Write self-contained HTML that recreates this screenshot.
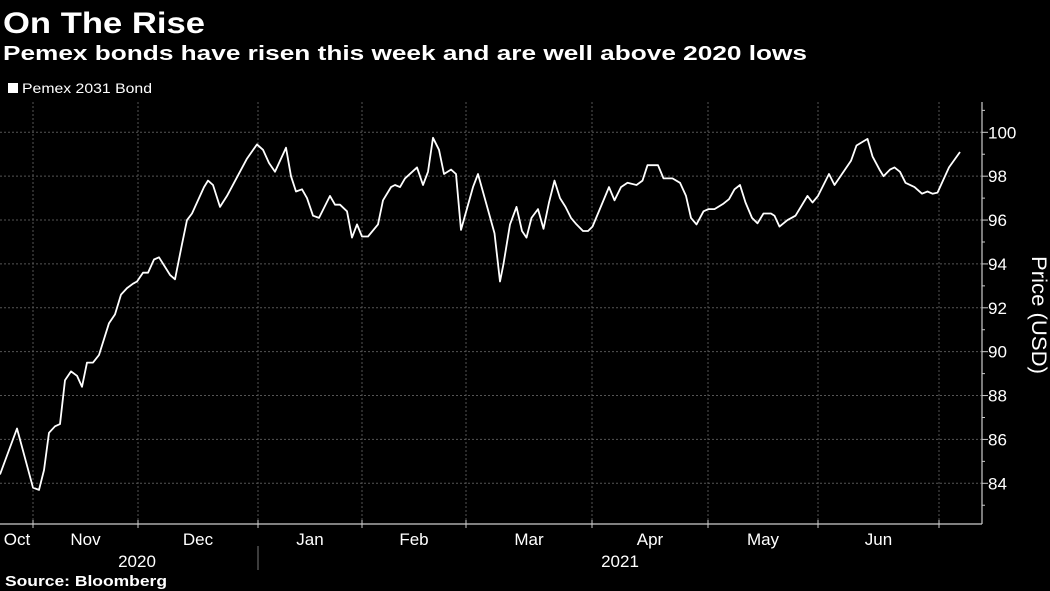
<!DOCTYPE html>
<html><head><meta charset="utf-8"><style>
html,body{margin:0;padding:0;background:#000;}
svg{display:block;}
text{font-family:"Liberation Sans","DejaVu Sans",sans-serif;fill:#fff;}
</style></head><body>
<svg id="chart" width="1050" height="591" viewBox="0 0 1050 591">
<rect x="0" y="0" width="1050" height="591" fill="#000"/>
<text x="3" y="33" font-size="30" font-weight="bold" textLength="202" lengthAdjust="spacingAndGlyphs">On The Rise</text>
<text x="3" y="60" font-size="20" font-weight="bold" textLength="804" lengthAdjust="spacingAndGlyphs">Pemex bonds have risen this week and are well above 2020 lows</text>
<g>
<rect x="8" y="83" width="10" height="10" fill="#fff"/>
<text x="22" y="93" font-size="14" textLength="130" lengthAdjust="spacingAndGlyphs">Pemex 2031 Bond</text>
</g>
<g id="grid"></g>
<g id="axes"></g>
<g id="series"></g>
<text font-size="21" text-anchor="middle" transform="translate(1032,315) rotate(90)" textLength="118" lengthAdjust="spacingAndGlyphs">Price (USD)</text>
<text x="5" y="586" font-size="15" font-weight="bold" textLength="162" lengthAdjust="spacingAndGlyphs">Source: Bloomberg</text>
</svg>
<script>
// trading-session index (t) and price values
const sessions = [0,3.4,6.6,7.8,8.8,9.8,11,12,13,14.2,15.4,16.4,17.4,18.6,19.8,21.8,23,24.2,25.4,26.6,27.4,28.6,29.6,30.8,31.8,34,35,36.4,37.4,38.4,40.8,41.6,42.6,44,45.4,49.4,51.4,52.6,53.8,55,57.2,58.2,59.2,60.4,61.4,62.6,63.8,66,67,68,69.4,70.4,71.4,72.4,73.6,75.6,76.6,78.2,79,80,81,83.4,84.6,85.6,86.6,87.8,88.8,90.2,91.2,92.2,94.6,95.6,98.9,100,100.7,102,103.3,104.4,105.3,106.3,107.6,108.7,109.8,110.9,112,113.1,114.2,115.3,116.6,117.6,118.5,121.8,122.9,124.2,125.5,127.3,128.5,129.5,131.6,132.7,134.5,136,137.2,138.2,139.3,140.7,141.7,142.9,144.7,145.8,146.9,148,149.1,150.4,151.5,152.7,154.2,154.9,155.9,157.5,159.1,161.5,162.5,163.6,165.8,166.9,170.2,171.3,173.5,174.5,175.9,176.7,178,178.9,180,181.1,182.9,184.4,185.5,186.5,187.5,189.8,192];
const prices = [84.4,86.5,83.8,83.7,84.6,86.3,86.6,86.7,88.7,89.1,88.9,88.4,89.5,89.5,89.85,91.3,91.7,92.6,92.9,93.1,93.2,93.6,93.6,94.2,94.3,93.5,93.3,94.9,96.0,96.3,97.5,97.8,97.6,96.6,97.1,98.8,99.45,99.2,98.6,98.2,99.3,98.0,97.3,97.4,97.0,96.2,96.1,97.1,96.7,96.7,96.4,95.2,95.8,95.25,95.25,95.8,96.9,97.5,97.6,97.5,97.9,98.4,97.6,98.2,99.75,99.2,98.1,98.3,98.1,95.55,97.5,98.1,95.4,93.2,94.0,95.8,96.6,95.5,95.2,96.1,96.5,95.6,96.8,97.8,97.0,96.6,96.1,95.8,95.5,95.5,95.7,97.5,96.9,97.5,97.7,97.6,97.8,98.5,98.5,97.9,97.9,97.7,97.1,96.1,95.8,96.4,96.5,96.5,96.75,96.95,97.4,97.6,96.8,96.1,95.85,96.3,96.3,96.2,95.7,96.0,96.2,97.1,96.8,97.1,98.1,97.6,98.7,99.4,99.7,98.9,98.3,98.0,98.3,98.4,98.2,97.7,97.5,97.2,97.3,97.2,97.25,98.4,99.1];
const monthBoundaries = [6.6,27.6,51.6,72.4,93.2,118.4,141.6,163.6,187.8];
const monthLabels = ["Oct","Nov","Dec","Jan","Feb","Mar","Apr","May","Jun"];
const yTicks = [84,86,88,90,92,94,96,98,100];
const yMinorTicks = [83,85,87,89,91,93,95,97,99,101];
const yearLabels = ["2020","2021"];

const NS = "http://www.w3.org/2000/svg";
const plotLeft = 0, plotRight = 982, plotTop = 102, plotBottom = 524;
const tMax = 196.4;
function xScale(t){ return plotLeft + t/tMax*(plotRight-plotLeft); }
function yScale(v){ return 483.3 - (v-84)*(483.3-132.3)/16; }
function mk(tag, attrs, parent){ const e=document.createElementNS(NS,tag); for(const k in attrs) e.setAttribute(k,attrs[k]); parent.appendChild(e); return e; }

const grid=document.getElementById('grid'), axes=document.getElementById('axes'), series=document.getElementById('series');
yTicks.forEach(v=>{
  const y=yScale(v);
  const g=mk('line',{x1:plotLeft,x2:plotRight,y1:y,y2:y,stroke:'#555','stroke-width':1,'stroke-dasharray':'2,2'},grid);
  
  
  const tk=mk('line',{x1:plotRight,x2:plotRight+6,y1:y,y2:y,stroke:'#ccc','stroke-width':1},axes);
  
  
  const lb=mk('text',{x:plotRight+6,y:y+6,'font-size':17},axes);
  lb.textContent=String(v);
  
  
});
yMinorTicks.forEach(v=>{
  const y=yScale(v);
  const tk=mk('line',{x1:plotRight,x2:plotRight+3,y1:y,y2:y,stroke:'#ccc','stroke-width':1},axes);
  
  
});
monthBoundaries.forEach(t=>{
  const x=xScale(t);
  const g=mk('line',{x1:x,x2:x,y1:plotTop,y2:plotBottom,stroke:'#555','stroke-width':1,'stroke-dasharray':'2,2'},grid);
  
  
  const tk=mk('line',{x1:x,x2:x,y1:plotBottom-4,y2:plotBottom+4,stroke:'#ccc','stroke-width':1},axes);
  
  
});
monthLabels.forEach((m,i)=>{
  const a = i===0 ? 0 : monthBoundaries[i-1];
  const b = monthBoundaries[i];
  const x = i===0 ? xScale(b)-16 : (xScale(a)+xScale(b))/2;
  const lb=mk('text',{x:x,y:545,'font-size':17,'text-anchor':'middle'},axes);
  lb.textContent=m;
  
  
});
const ySep = xScale(monthBoundaries[2]);
const y1=mk('text',{x:(xScale(0)+ySep)/2+8,y:567,'font-size':17,'text-anchor':'middle'},axes);
y1.textContent=yearLabels[0];


const y2=mk('text',{x:(ySep+xScale(tMax))/2,y:567,'font-size':17,'text-anchor':'middle'},axes);
y2.textContent=yearLabels[1];


const sep=mk('line',{x1:ySep,x2:ySep,y1:546,y2:570,stroke:'#777','stroke-width':1},axes);


const xa=mk('line',{x1:plotLeft,x2:plotRight,y1:plotBottom,y2:plotBottom,stroke:'#ccc','stroke-width':1.2},axes);


const ya=mk('line',{x1:plotRight,x2:plotRight,y1:plotTop,y2:plotBottom,stroke:'#ccc','stroke-width':1.2},axes);



const d = sessions.map((t,i)=>(i?'L':'M')+xScale(t).toFixed(1)+','+yScale(prices[i]).toFixed(1)).join(' ');
const path=mk('path',{d:d,fill:'none',stroke:'#fff','stroke-width':1.8,'stroke-linejoin':'round'},series);


</script>
</body></html>
